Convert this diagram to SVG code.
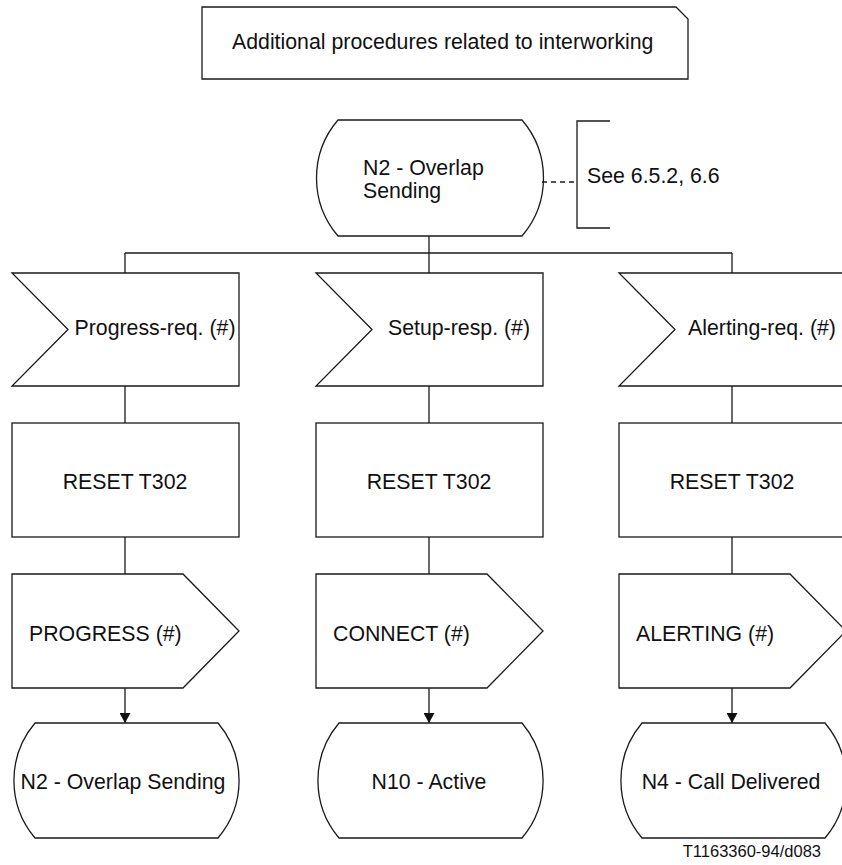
<svg xmlns="http://www.w3.org/2000/svg" width="842" height="865" viewBox="0 0 842 865">
<style>
.s{fill:#fff;stroke:#1a1a1a;stroke-width:1.3}
.c{fill:none;stroke:#1a1a1a;stroke-width:1.3}
text{font-family:"Liberation Sans",Arial,sans-serif;font-size:21.3px;fill:#111}
.m{text-anchor:middle}
</style>
<defs>
<marker id="arr" markerUnits="userSpaceOnUse" markerWidth="11" markerHeight="11" refX="10" refY="5.5" orient="auto" viewBox="0 0 10 11">
<path d="M0,0 L10,5.5 L0,11 Z" fill="#111"/>
</marker>
</defs>
<rect width="842" height="865" fill="#fff"/>
<g id="note">
<path class="s" d="M202,7 L676,7 L688,19 L688,79 L202,79 Z"/>
<text x="232" y="49">Additional procedures related to interworking</text>
</g>
<g id="start">
<path class="s" d="M338,120 L522,120 A89 89 0 0 1 522,236 L338,236 A89 89 0 0 1 338,120 Z"/>
<text x="363" y="175">N2 - Overlap</text>
<text x="363" y="198">Sending</text>
</g>
<g id="comment">
<path class="c" d="M610,121 L577,121 L577,228 L610,228"/>
<text x="587" y="183">See 6.5.2, 6.6</text>
</g>
<g id="connectors">
<line class="c" x1="542" y1="182" x2="577" y2="182" stroke-dasharray="5 4"/>
<line class="c" x1="429" y1="236" x2="429" y2="253"/>
<line class="c" x1="125" y1="253" x2="732" y2="253"/>
<line class="c" x1="125" y1="253" x2="125" y2="273"/>
<line class="c" x1="429" y1="253" x2="429" y2="273"/>
<line class="c" x1="732" y1="253" x2="732" y2="273"/>
<line class="c" x1="125" y1="386" x2="125" y2="423"/>
<line class="c" x1="429" y1="386" x2="429" y2="423"/>
<line class="c" x1="732" y1="386" x2="732" y2="423"/>
<line class="c" x1="125" y1="537" x2="125" y2="574"/>
<line class="c" x1="429" y1="537" x2="429" y2="574"/>
<line class="c" x1="732" y1="537" x2="732" y2="574"/>
<line class="c" x1="125" y1="688" x2="125" y2="723" marker-end="url(#arr)"/>
<line class="c" x1="429" y1="688" x2="429" y2="723" marker-end="url(#arr)"/>
<line class="c" x1="732" y1="688" x2="732" y2="723" marker-end="url(#arr)"/>
</g>
<g id="in1">
<polygon class="s" points="12,273 239,273 239,386 12,386 68,329.5"/>
<text class="m" x="155" y="335">Progress-req. (#)</text>
</g>
<g id="in2">
<polygon class="s" points="316,273 543,273 543,386 316,386 372,329.5"/>
<text class="m" x="459" y="335">Setup-resp. (#)</text>
</g>
<g id="in3">
<polygon class="s" points="619,273 846,273 846,386 619,386 675,329.5"/>
<text class="m" x="762" y="335">Alerting-req. (#)</text>
</g>
<g id="task1">
<rect class="s" x="12" y="423" width="227" height="114"/>
<text class="m" x="125" y="489">RESET T302</text>
</g>
<g id="task2">
<rect class="s" x="316" y="423" width="227" height="114"/>
<text class="m" x="429" y="489">RESET T302</text>
</g>
<g id="task3">
<rect class="s" x="619" y="423" width="227" height="114"/>
<text class="m" x="732" y="489">RESET T302</text>
</g>
<g id="out1">
<polygon class="s" points="12,574 183,574 239,631 183,688 12,688"/>
<text x="29" y="641">PROGRESS (#)</text>
</g>
<g id="out2">
<polygon class="s" points="316,574 487,574 543,631 487,688 316,688"/>
<text x="333" y="641">CONNECT (#)</text>
</g>
<g id="out3">
<polygon class="s" points="619,574 790,574 846,631 790,688 619,688"/>
<text x="636" y="641">ALERTING (#)</text>
</g>
<g id="st1">
<path class="s" d="M35,723 L218,723 A89 89 0 0 1 218,838 L35,838 A89 89 0 0 1 35,723 Z"/>
<text class="m" x="123" y="789">N2 - Overlap Sending</text>
</g>
<g id="st2">
<path class="s" d="M339,723 L522,723 A89 89 0 0 1 522,838 L339,838 A89 89 0 0 1 339,723 Z"/>
<text class="m" x="429" y="789">N10 - Active</text>
</g>
<g id="st3">
<path class="s" d="M642,723 L825,723 A89 89 0 0 1 825,838 L642,838 A89 89 0 0 1 642,723 Z"/>
<text class="m" x="731" y="789">N4 - Call Delivered</text>
</g>
<text x="821" y="857" style="font-size:16.5px;text-anchor:end">T1163360-94/d083</text>
</svg>
